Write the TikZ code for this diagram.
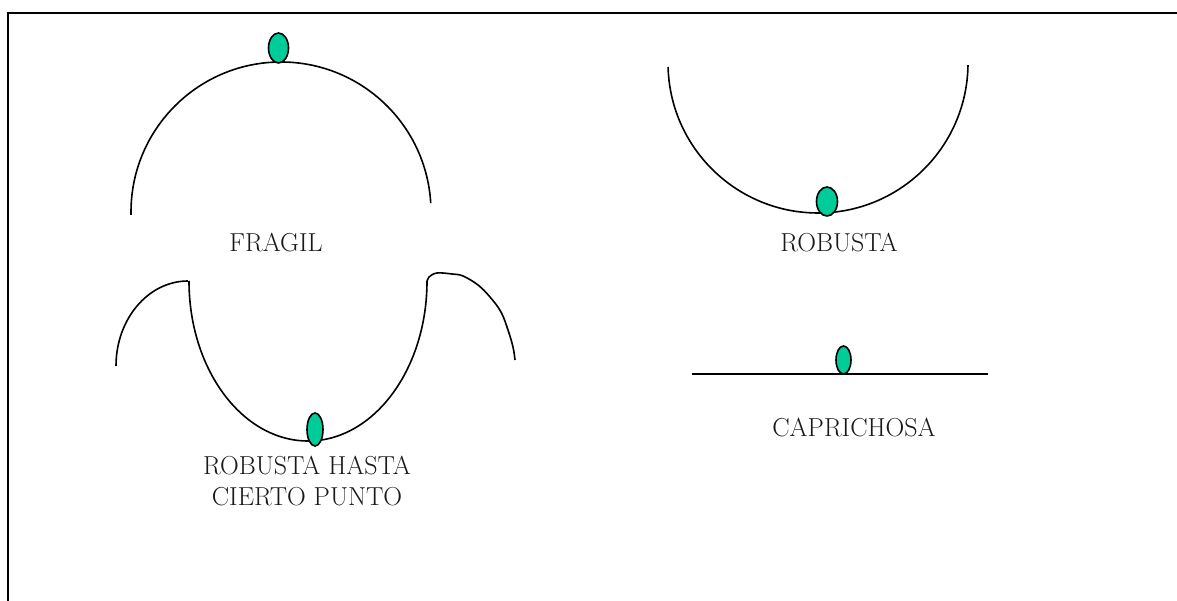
\documentclass[tikz,border=0pt]{standalone}
\usepackage{fontspec}
\usetikzlibrary{shapes.geometric}
\definecolor{ballgreen}{HTML}{00CC99}
\begin{document}
\begin{tikzpicture}[x=1pt,y=1pt,
  curve/.style={line width=1.6pt,black},
  ball/.style={ellipse,draw=black,line width=1.6pt,fill=ballgreen,inner sep=0pt},
  lbl/.style={anchor=base,inner sep=0pt,font=\fontsize{26}{31}\selectfont,text=black!90}]
\useasboundingbox (0,0) rectangle (1177,601);
% frame
\draw[line width=2.2pt] (8,0) -- (8,588) -- (1177,588);
% FRAGIL
\coordinate (c1) at (281,389);
\draw[curve] ([shift={(181.1:150)}]c1) arc[start angle=181.1,end angle=3.4,radius=150];
\node[ball,minimum width=20pt,minimum height=30pt] (b1) at (278.5,553) {};
\node[lbl] (t1) at (276,349) {FRAGIL};
% ROBUSTA
\coordinate (c2) at (818,538);
\draw[curve] ([shift={(181.5:150)}]c2) arc[start angle=181.5,end angle=359.2,radius=150];
\node[ball,minimum width=21pt,minimum height=29pt] (b2) at (827,399.5) {};
\node[lbl] (t2) at (839,349) {ROBUSTA};
% ROBUSTA HASTA CIERTO PUNTO
\coordinate (c3) at (308,320);
\draw[curve] ([shift={(180:119 and 160)}]c3) arc[start angle=180,end angle=360,x radius=119,y radius=160];
\coordinate (c4) at (188,235);
\draw[curve] ([shift={(180:72 and 85)}]c4) arc[start angle=180,end angle=90,x radius=72,y radius=85];
\draw[curve] plot[smooth,tension=0.6] coordinates {(427,319) (429,324) (437,328) (452,327) (463,325) (478,316) (490,304) (501,289) (508,271) (513,254) (515,241)};
\node[ball,minimum width=16pt,minimum height=33pt] (b3) at (315,171.5) {};
\node[lbl] (t3) at (307,126) {ROBUSTA HASTA};
\node[lbl] (t4) at (307,95) {CIERTO PUNTO};
% CAPRICHOSA
\coordinate (l1) at (692,227);
\coordinate (l2) at (988,227);
\draw[curve] (l1) -- (l2);
\node[ball,minimum width=15pt,minimum height=28pt] (b4) at (843.5,241) {};
\node[lbl] (t5) at (854,164) {CAPRICHOSA};
\end{tikzpicture}
\end{document}
